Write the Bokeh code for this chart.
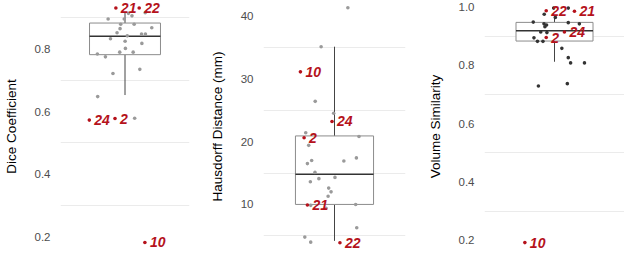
from bokeh.plotting import figure
from bokeh.layouts import row
from bokeh.models import Range1d, FixedTicker
from bokeh.core.properties import value
from bokeh.embed import file_html
from bokeh.resources import INLINE

# ---------------- data ----------------
# Dice coefficient
dice_vals = [0.896, 0.896, 0.914, 0.906, 0.916, 0.879, 0.879, 0.868, 0.865, 0.852,
             0.848, 0.848, 0.842, 0.833, 0.825, 0.818, 0.802, 0.790, 0.790, 0.784,
             0.775, 0.735, 0.722, 0.648, 0.579]
dice_jit = [-0.157, -0.007, 0.032, 0.065, 0.188, -0.040, 0.085, 0.249, -0.046, -0.074,
            0.154, 0.190, 0.021, -0.135, 0.001, 0.157, 0.004, -0.049, 0.076, -0.257,
            -0.182, 0.138, -0.112, -0.254, 0.090]
dice_lab = ["21", "22", "24", "2", "10"]
dice_lab_vals = [0.931, 0.931, 0.573, 0.578, 0.182]
dice_lab_jit = [-0.085, 0.132, -0.332, -0.093, 0.185]
dice_box = dict(lower=0.653, q1=0.782, med=0.841, q3=0.883, upper=0.918)

# Hausdorff distance (mm)
hd_vals = [41.3, 35.1, 26.4, 24.5, 21.4, 20.8, 19.4, 17.0, 16.5, 16.9, 17.4, 15.1,
           13.6, 14.1, 14.3, 12.6, 12.0, 11.3, 9.85, 9.4, 10.0, 6.3, 4.8, 4.0]
hd_jit = [0.113, -0.113, -0.163, -0.007, -0.243, 0.207, -0.218, -0.193, -0.229, 0.079,
          0.185, -0.165, -0.204, -0.132, 0.004, -0.049, -0.029, -0.054, -0.201, -0.071,
          0.179, 0.188, -0.251, -0.201]
hd_lab = ["10", "24", "2", "21", "22"]
hd_lab_vals = [31.1, 23.2, 20.6, 9.9, 3.9]
hd_lab_jit = [-0.288, -0.021, -0.257, -0.229, 0.046]
hd_box = dict(lower=4.2, q1=10.0, med=14.8, q3=20.9, upper=35.1)

# Volume similarity
vs_vals = [0.996, 0.996, 0.975, 0.964, 0.948, 0.946, 0.942, 0.942, 0.938, 0.932,
           0.914, 0.912, 0.894, 0.882, 0.882, 0.858, 0.826, 0.808, 0.808, 0.729, 0.737]
vs_jit = [-0.007, 0.118, -0.088, 0.007, -0.182, 0.118, 0.213, -0.090, -0.068, -0.082,
          -0.118, -0.065, -0.176, -0.146, -0.099, 0.063, 0.118, 0.138, 0.257, -0.138, 0.110]
vs_lab = ["22", "21", "24", "2", "10"]
vs_lab_vals = [0.987, 0.985, 0.914, 0.895, 0.192]
vs_lab_jit = [-0.071, 0.171, 0.085, -0.071, -0.254]
vs_box = dict(lower=0.812, q1=0.883, med=0.918, q3=0.947, upper=0.966)

panels = [
    dict(title="Dice Coefficient", vals=dice_vals, jit=dice_jit, lab=dice_lab,
         lab_vals=dice_lab_vals, lab_jit=dice_lab_jit, box=dice_box,
         yr=(0.150, 0.955), ticks=[0.2, 0.4, 0.6, 0.8], grid=[0.3, 0.5, 0.7, 0.9],
         tick_labels=["0.2", "0.4", "0.6", "0.8"],
         pt_color="#9a9a9a", width=200, bl=49, br=11),
    dict(title="Hausdorff Distance (mm)", vals=hd_vals, jit=hd_jit, lab=hd_lab,
         lab_vals=hd_lab_vals, lab_jit=hd_lab_jit, box=hd_box,
         yr=(2.35, 42.45), ticks=[10, 20, 30, 40], grid=[5, 15, 25, 35],
         tick_labels=["10", "20", "30", "40"],
         pt_color="#9a9a9a", width=212, bl=63, br=7),
    dict(title="Volume Similarity", vals=vs_vals, jit=vs_jit, lab=vs_lab,
         lab_vals=vs_lab_vals, lab_jit=vs_lab_jit, box=vs_box,
         yr=(0.158, 1.022), ticks=[0.2, 0.4, 0.6, 0.8, 1.0], grid=[0.3, 0.5, 0.7, 0.9],
         tick_labels=["0.2", "0.4", "0.6", "0.8", "1.0"],
         pt_color="#333333", width=212, bl=72, br=0),
]

FONT = "Liberation Sans"
RED = "#B5121B"
HALF = 0.33

figs = []
for pn in panels:
    p = figure(width=pn["width"], height=252, output_backend="svg", toolbar_location=None,
               x_range=Range1d(-0.6, 0.6), y_range=Range1d(*pn["yr"]),
               x_axis_location=None, min_border_left=pn["bl"], min_border_right=pn["br"],
               min_border_top=0, min_border_bottom=0)
    p.outline_line_color = None
    p.background_fill_color = "white"
    p.border_fill_color = "white"
    p.xgrid.visible = False
    p.ygrid.ticker = FixedTicker(ticks=pn["grid"])
    p.ygrid.grid_line_color = "#ebebeb"
    p.ygrid.grid_line_width = 1

    ax = p.yaxis[0]
    ax.ticker = FixedTicker(ticks=pn["ticks"])
    ax.major_label_overrides = {t: s for t, s in zip(pn["ticks"], pn["tick_labels"])}
    ax.axis_line_color = None
    ax.major_tick_line_color = None
    ax.minor_tick_line_color = None
    ax.major_label_standoff = 4
    ax.major_label_text_font = FONT
    ax.major_label_text_font_size = "11.5px"
    ax.major_label_text_color = "#4d4d4d"
    ax.axis_label = pn["title"]
    ax.axis_label_text_font = FONT
    ax.axis_label_text_font_size = "13.5px"
    ax.axis_label_text_font_style = "normal"
    ax.axis_label_text_color = "black"
    ax.axis_label_standoff = 13

    b = pn["box"]
    p.segment(x0=[0, 0], y0=[b["q3"], b["q1"]], x1=[0, 0], y1=[b["upper"], b["lower"]],
              line_color="#444444", line_width=1)
    p.quad(left=[-HALF], right=[HALF], bottom=[b["q1"]], top=[b["q3"]],
           fill_color="white", line_color="#8c8c8c", line_width=1)
    p.segment(x0=[-HALF], x1=[HALF], y0=[b["med"]], y1=[b["med"]],
              line_color="#333333", line_width=1.5)

    p.scatter(x=pn["jit"], y=pn["vals"], size=3.6, fill_color=pn["pt_color"],
              line_color=None)
    p.scatter(x=pn["lab_jit"], y=pn["lab_vals"], size=3.6, fill_color=RED,
              line_color=None)
    p.text(x=pn["lab_jit"], y=pn["lab_vals"], text=pn["lab"], x_offset=5,
           text_baseline="middle", text_align="left", text_color=RED,
           text_font=value(FONT), text_font_style="bold italic",
           text_font_size="14px")
    figs.append(p)

layout = row(*figs)
open("out.html", "w").write(file_html(layout, INLINE))
